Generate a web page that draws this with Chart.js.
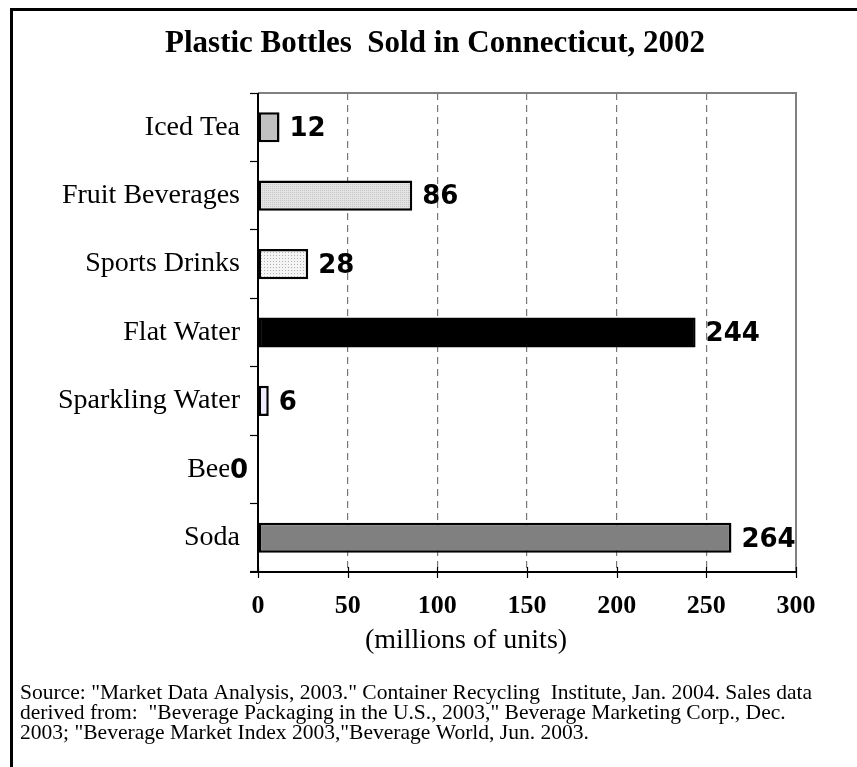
<!DOCTYPE html>
<html>
<head>
<meta charset="utf-8">
<script src="https://cdn.jsdelivr.net/npm/chart.js@4/dist/chart.umd.min.js"></script>
<style>
html,body{margin:0;padding:0;background:#fff;}
#wrap{width:857px;height:767px;position:relative;}
</style>
</head>
<body>
<div id="wrap"><canvas id="c" width="857" height="767"></canvas></div>
<script>
const chartTitle = "Plastic Bottles  Sold in Connecticut, 2002";
const categories = ["Iced Tea", "Fruit Beverages", "Sports Drinks", "Flat Water", "Sparkling Water", "Beer", "Soda"];
const values = [12, 86, 28, 244, 6, 0, 264];
const xTicks = [0, 50, 100, 150, 200, 250, 300];
const xAxisTitle = "(millions of units)";
const sourceLines = [
  'Source: "Market Data Analysis, 2003." Container Recycling  Institute, Jan. 2004. Sales data',
  'derived from:  "Beverage Packaging in the U.S., 2003," Beverage Marketing Corp., Dec.',
  '2003; "Beverage Market Index 2003,"Beverage World, Jun. 2003.'
];

function makePattern(bg, dot, step) {
  const p = document.createElement('canvas');
  p.width = step; p.height = step;
  const g = p.getContext('2d');
  g.fillStyle = bg; g.fillRect(0, 0, step, step);
  g.fillStyle = dot; g.fillRect(0, 0, 1, 1);
  return document.getElementById('c').getContext('2d').createPattern(p, 'repeat');
}
const fruitPat = makePattern('#e4e4e4', '#c4c4c4', 2);
const sportsPat = makePattern('#f4f4f4', '#b0b0b0', 3);

const fills = ['#c0c0c0', fruitPat, sportsPat, '#000000', '#eeeeff', '#ffffff', '#808080'];

const decor = {
  id: 'decor',
  beforeDraw(chart) {
    const ctx = chart.ctx;
    ctx.save();
    ctx.fillStyle = '#fff';
    ctx.fillRect(0, 0, chart.width, chart.height);
    ctx.restore();
  },
  afterDatasetsDraw(chart) {
    const ctx = chart.ctx;
    const ca = chart.chartArea;
    const xs = chart.scales.x;
    ctx.save();
    // plot border top/right gray
    ctx.strokeStyle = '#808080';
    ctx.lineWidth = 2;
    ctx.beginPath();
    ctx.moveTo(ca.left, ca.top);
    ctx.lineTo(ca.right, ca.top);
    ctx.lineTo(ca.right, ca.bottom);
    ctx.stroke();
    // x axis line & ticks
    ctx.strokeStyle = '#000';
    ctx.lineWidth = 2;
    ctx.beginPath();
    ctx.moveTo(ca.left - 8, ca.bottom);
    ctx.lineTo(ca.right, ca.bottom);
    ctx.stroke();
    ctx.lineWidth = 1.2;
    ctx.beginPath();
    xTicks.forEach(v => {
      const px = Math.round(xs.getPixelForValue(v)) + 0.5;
      ctx.moveTo(px, ca.bottom - 5);
      ctx.lineTo(px, ca.bottom + 6);
    });
    ctx.stroke();
    // y axis line
    ctx.lineWidth = 2;
    ctx.beginPath();
    ctx.moveTo(ca.left, ca.top);
    ctx.lineTo(ca.left, ca.bottom);
    ctx.stroke();

    // value labels
    const meta = chart.getDatasetMeta(0);
    ctx.font = 'bold 26px "DejaVu Sans"';
    ctx.textBaseline = 'middle';
    meta.data.forEach((el, i) => {
      const v = values[i];
      if (v === 0) {
        ctx.textAlign = 'right';
        const w = ctx.measureText(String(v)).width;
        ctx.fillStyle = '#fff';
        ctx.fillRect(el.base - 10 - w - 1, el.y - 12, w + 2, 24);
        ctx.fillStyle = '#000';
        ctx.fillText(String(v), el.base - 10, el.y + 2);
      } else {
        ctx.textAlign = 'left';
        ctx.fillStyle = '#000';
        ctx.fillText(String(v), el.x + 10, el.y + 2);
      }
    });

    // title
    ctx.fillStyle = '#000';
    ctx.textAlign = 'center';
    ctx.textBaseline = 'middle';
    ctx.font = 'bold 31px "Liberation Serif"';
    ctx.fillText(chartTitle, 435, 44);

    // x axis title
    ctx.font = '28px "Liberation Serif"';
    ctx.fillText(xAxisTitle, 466, 641);

    // source
    ctx.font = '21px "Liberation Serif"';
    ctx.textAlign = 'left';
    const w0 = ctx.measureText(sourceLines[0]).width;
    const sx = 792 / w0;
    sourceLines.forEach((ln, i) => {
      ctx.save();
      ctx.translate(20, 693 + i * 20);
      ctx.scale(sx, 1);
      ctx.fillText(ln, 0, 0);
      ctx.restore();
    });

    // frame
    ctx.strokeStyle = '#000';
    ctx.lineWidth = 3;
    ctx.beginPath();
    ctx.moveTo(11.5, chart.height + 5);
    ctx.lineTo(11.5, 9.5);
    ctx.lineTo(chart.width + 5, 9.5);
    ctx.stroke();
    ctx.restore();
  }
};

new Chart(document.getElementById('c'), {
  type: 'bar',
  data: {
    labels: categories,
    datasets: [{
      data: values,
      backgroundColor: fills,
      borderColor: '#000',
      borderWidth: 2.5,
      borderSkipped: false,
      barPercentage: 0.44,
      categoryPercentage: 1
    }]
  },
  options: {
    indexAxis: 'y',
    responsive: false,
    animation: false,
    layout: { padding: { top: 93, right: 61, left: 0, bottom: 0 } },
    plugins: { legend: { display: false }, tooltip: { enabled: false }, title: { display: false } },
    scales: {
      x: {
        min: 0, max: 300,
        afterFit(s) { s.height = 195; },
        afterBuildTicks(s) { s.ticks = xTicks.map(v => ({ value: v })); },
        border: { display: false, dash: [7, 5] },
        grid: {
          drawTicks: false,
          color: ctx => (ctx.tick && (ctx.tick.value === 0 || ctx.tick.value === 300)) ? 'rgba(0,0,0,0)' : '#777777',
          lineWidth: 1.2
        },
        ticks: {
          padding: 19,
          color: '#000',
          font: { family: 'Liberation Serif', size: 26, weight: 'bold' }
        }
      },
      y: {
        afterFit(s) { s.width = 258; },
        border: { display: false },
        grid: {
          offset: true,
          drawOnChartArea: false,
          drawTicks: true,
          tickLength: 8,
          tickColor: '#000',
          tickWidth: 1.2
        },
        ticks: {
          padding: 10,
          color: '#000',
          font: { family: 'Liberation Serif', size: 28 }
        }
      }
    }
  },
  plugins: [decor]
});
</script>
</body>
</html>
